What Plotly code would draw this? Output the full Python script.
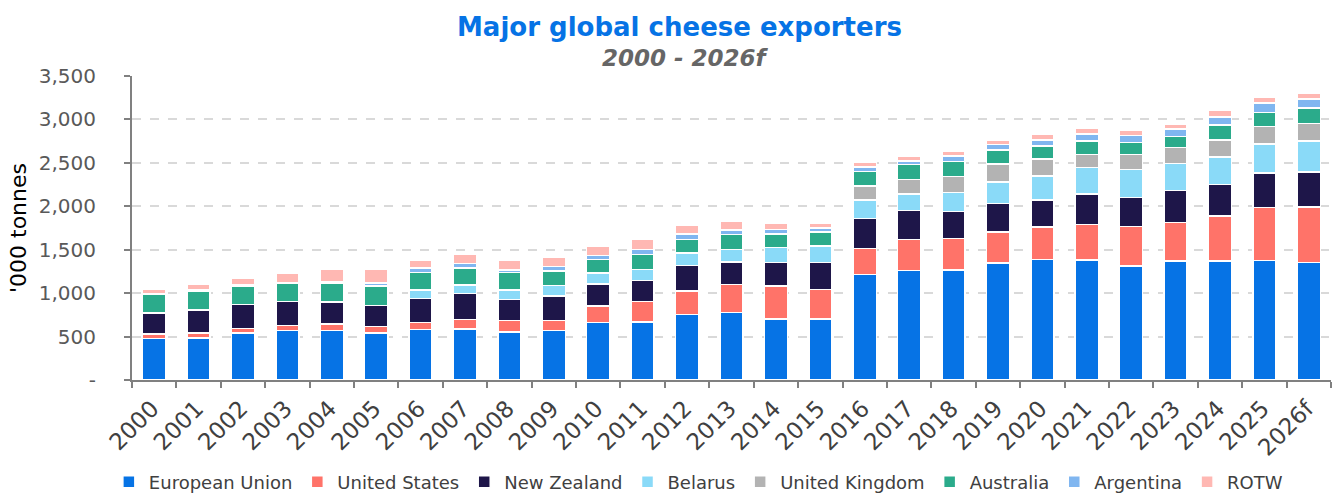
import plotly.graph_objects as go

years = [str(y) for y in range(2000, 2026)] + ["2026f"]

european_union = [480, 485, 540, 570, 570, 540, 580, 585, 550, 570, 660, 670, 755, 775, 705, 705,
                  1215, 1260, 1265, 1345, 1390, 1380, 1315, 1370, 1370, 1375, 1355]
united_states = [50, 55, 55, 55, 75, 75, 80, 110, 135, 115, 190, 235, 270, 325, 380, 335,
                 300, 355, 365, 360, 370, 410, 455, 445, 520, 610, 635]
new_zealand = [240, 265, 275, 280, 255, 245, 280, 300, 240, 285, 255, 240, 295, 260, 265, 310,
               345, 335, 310, 330, 310, 350, 330, 365, 360, 400, 405]
belarus = [0, 0, 0, 0, 0, 0, 95, 100, 110, 120, 125, 130, 140, 145, 175, 190,
           210, 190, 220, 245, 280, 305, 325, 315, 320, 335, 355]
united_kingdom = [0, 0, 0, 0, 0, 0, 0, 0, 0, 0, 0, 0, 0, 0, 0, 0,
                  165, 170, 185, 205, 195, 150, 170, 180, 195, 200, 205]
australia = [220, 220, 215, 205, 215, 225, 200, 195, 200, 165, 160, 170, 160, 170, 155, 165,
             165, 170, 170, 165, 150, 155, 140, 130, 170, 160, 175]
argentina = [5, 10, 15, 15, 20, 30, 55, 50, 30, 50, 45, 60, 60, 50, 55, 45,
             50, 40, 65, 60, 70, 80, 80, 85, 95, 110, 105]
rotw = [50, 70, 75, 105, 145, 165, 85, 110, 115, 105, 110, 115, 105, 105, 65, 55,
        55, 60, 50, 55, 65, 65, 65, 60, 80, 70, 70]

series = [
    ("European Union", european_union, "#0673E5"),
    ("United States", united_states, "#FF7369"),
    ("New Zealand", new_zealand, "#1E1649"),
    ("Belarus", belarus, "#8ADAF8"),
    ("United Kingdom", united_kingdom, "#B3B3B3"),
    ("Australia", australia, "#2BAB8B"),
    ("Argentina", argentina, "#80B6F0"),
    ("ROTW", rotw, "#FFB8B3"),
]

y_ticks = [0, 500, 1000, 1500, 2000, 2500, 3000, 3500]
y_ticktext = ["-", "500", "1,000", "1,500", "2,000", "2,500", "3,000", "3,500"]

fig = go.Figure()
for name, vals, color in series:
    fig.add_trace(go.Bar(
        x=years, y=vals, name=name,
        marker=dict(color=color, line=dict(color="white", width=1.5)),
    ))

FONT = "DejaVu Sans"

fig.update_layout(
    barmode="stack",
    bargap=0.48,
    width=1343, height=495,
    margin=dict(l=132, r=12, t=76, b=115, pad=0, autoexpand=False),
    paper_bgcolor="white", plot_bgcolor="white",
    font=dict(family=FONT, size=18, color="#404040"),
    showlegend=True,
    legend=dict(
        orientation="h", x=0.52, xanchor="center", xref="container",
        y=0.026, yanchor="middle", yref="container",
        font=dict(family=FONT, size=18, color="#404040"),
        itemwidth=30, tracegroupgap=0, traceorder="normal",
    ),
    xaxis=dict(
        type="category",
        automargin=False,
        tickangle=-45,
        tickfont=dict(family=FONT, size=23, color="#404040"),
        ticklabelshift=-2, ticklabelstandoff=4,
        showline=True, linecolor="#808080", linewidth=2,
        ticks="outside", tickson="boundaries", ticklen=6, tickcolor="#808080", tickwidth=2,
        showgrid=False,
    ),
    yaxis=dict(
        automargin=False,
        range=[0, 3500],
        tickvals=y_ticks, ticktext=y_ticktext,
        tickfont=dict(family=FONT, size=20, color="#595959"),
        showline=True, linecolor="#808080", linewidth=2,
        ticks="outside", ticklen=6, tickcolor="#808080", tickwidth=2,
        ticklabelstandoff=24,
        showgrid=True, gridcolor="#D9D9D9", griddash="dash", gridwidth=2,
        zeroline=False,
        title=dict(text="'000 tonnes", font=dict(family=FONT, size=22, color="#000000"), standoff=6),
    ),
    annotations=[
        dict(text="<b>Major global cheese exporters</b>", xref="paper", yref="paper",
             x=0.4566, y=(380 - 27) / 304, xanchor="center", yanchor="middle", showarrow=False,
             font=dict(family=FONT, size=26, color="#0673E5")),
        dict(text="<b><i>2000 - 2026f</i></b>", xref="paper", yref="paper",
             x=(686 - 132.5) / 1199, y=(380 - 58) / 304, xanchor="center", yanchor="middle", showarrow=False,
             font=dict(family=FONT, size=23, color="#666666")),
    ],
)

fig.write_html("out.html")
